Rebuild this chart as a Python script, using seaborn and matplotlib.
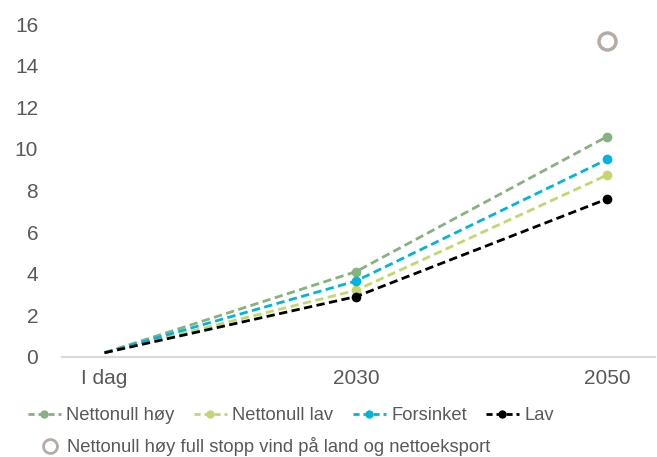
import numpy as np
import pandas as pd
import matplotlib
matplotlib.use("Agg")
import matplotlib.pyplot as plt
import seaborn as sns
from matplotlib.lines import Line2D

# Data
categories = ["I dag", "2030", "2050"]
nettonull_hoy = [0.2, 4.1, 10.6]
nettonull_lav = [0.2, 3.2, 8.75]
forsinket = [0.2, 3.65, 9.5]
lav = [0.2, 2.9, 7.6]
full_stopp_2050 = 15.2

series = [
    ("Nettonull høy", nettonull_hoy, "#85B27F"),
    ("Nettonull lav", nettonull_lav, "#C3D76E"),
    ("Forsinket", forsinket, "#00B4E0"),
    ("Lav", lav, "#000000"),
]

sns.set_style("white")
plt.rcParams["font.family"] = ["Liberation Sans", "DejaVu Sans"]
text_color = "#595959"

fig = plt.figure(figsize=(6.57, 4.57), dpi=100)
ax = fig.add_axes([0.094, 0.219, 0.903, 0.728])

x = np.arange(len(categories))
for name, vals, color in series:
    sns.lineplot(x=x, y=vals, ax=ax, color=color, linestyle=(0, (3, 1.6)),
                 linewidth=2, marker="o", markersize=7, markeredgewidth=0,
                 markevery=[1, 2], label=name, legend=False)

ax.scatter([x[-1]], [full_stopp_2050], s=150, facecolors="white",
           edgecolors="#B5ACA6", linewidths=2.5, zorder=5)

ax.set_xlim(-0.17, 2.19)
ax.set_ylim(0, 16)
ax.set_yticks(range(0, 17, 2))
ax.set_xticks(x)
ax.set_xticklabels(categories)
ax.tick_params(axis="both", length=0, labelsize=15, colors=text_color)
ax.tick_params(axis="x", pad=9)
ax.tick_params(axis="y", pad=17)
sns.despine(ax=ax, left=True)
ax.spines["bottom"].set_color("#D9D9D9")
ax.spines["bottom"].set_linewidth(1.5)

handles = [Line2D([], [], color=c, linestyle=(0, (2.2, 1.4)), linewidth=2,
                  marker="o", markersize=6, markeredgewidth=0)
           for _, _, c in series]
labels = [s[0] for s in series]
fig.legend(handles, labels, loc="center left", bbox_to_anchor=(0.042, 0.09),
           ncol=4, frameon=False, fontsize=13.2, handlelength=1.8,
           handletextpad=0.3, columnspacing=1.05, labelcolor=text_color,
           borderaxespad=0, borderpad=0)
circle = Line2D([], [], linestyle="none", marker="o", markersize=10,
                markerfacecolor="white", markeredgecolor="#B5ACA6",
                markeredgewidth=2)
fig.legend([circle], ["Nettonull høy full stopp vind på land og nettoeksport"],
           loc="center left", bbox_to_anchor=(0.065, 0.022), frameon=False,
           fontsize=13.2, handlelength=0.8, handletextpad=0.5,
           labelcolor=text_color, borderaxespad=0, borderpad=0)

fig.savefig("out.png", dpi=100)
